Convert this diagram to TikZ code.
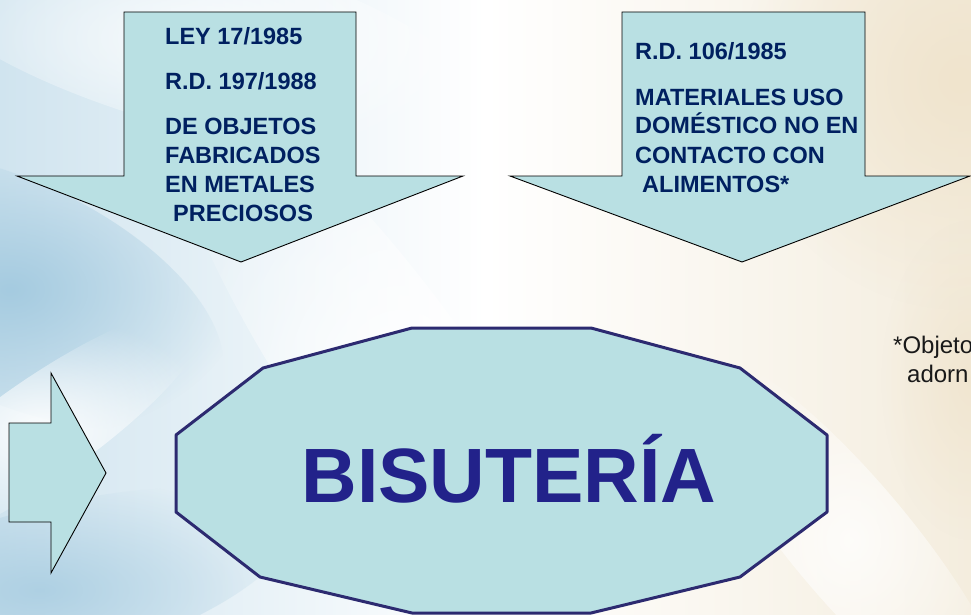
\documentclass[tikz,border=0pt]{standalone}
\usepackage{fontspec}
\setmainfont{Liberation Sans}
\usetikzlibrary{fadings}
\tikzfading[name=softfade, inner color=transparent!0, outer color=transparent!100]
\definecolor{arrowfill}{RGB}{185,224,227}
\definecolor{navytext}{RGB}{0,32,96}
\definecolor{octline}{RGB}{44,42,112}
\definecolor{bistext}{RGB}{34,34,138}
\definecolor{bgbluelight}{RGB}{208,228,239}
\definecolor{bgblue}{RGB}{165,203,224}
\definecolor{bgcream}{RGB}{244,237,222}
\definecolor{bgwarm}{RGB}{240,228,205}
\tikzset{
  arrowshape/.style={fill=arrowfill, draw=black, line width=0.9pt, line join=miter},
  octshape/.style={fill=arrowfill, draw=octline, line width=3pt, line join=round},
  lawtext/.style={anchor=base west, inner sep=0pt, text=navytext, font=\fontsize{23.5}{28}\selectfont\bfseries},
  bigtext/.style={anchor=base, inner sep=0pt, text=bistext, font=\fontsize{77}{77}\selectfont\bfseries},
  notetext/.style={anchor=base west, inner sep=0pt, text=black!90, font=\fontsize{24}{29}\selectfont},
  softblob/.style={path fading=softfade}
}
\begin{document}
\begin{tikzpicture}[x=1pt,y=-1pt]
\useasboundingbox (0,0) rectangle (971,615);
\clip (0,0) rectangle (971,615);
% background
\shade[left color=bgbluelight, right color=bgcream, middle color=white] (0,0) rectangle (971,615);
\fill[bgblue, softblob, rotate around={-25:(10,290)}] (10,290) ellipse (230pt and 110pt);
\fill[bgblue, softblob, opacity=0.8, rotate around={15:(40,590)}] (40,590) ellipse (260pt and 80pt);
\fill[white, softblob, opacity=0.9, rotate around={35:(40,430)}] (40,430) ellipse (200pt and 50pt);
\fill[white, softblob, opacity=0.9, rotate around={-55:(400,400)}] (400,400) ellipse (380pt and 90pt);
\fill[white, softblob, opacity=0.8, rotate around={-15:(200,40)}] (200,40) ellipse (300pt and 90pt);
\fill[bgwarm, softblob] (960,80) ellipse (220pt and 230pt);
\fill[bgwarm, softblob, opacity=0.8] (971,380) ellipse (90pt and 160pt);
\fill[white, softblob, opacity=0.8, rotate around={-50:(850,540)}] (850,540) ellipse (240pt and 60pt);
% left arrow
\draw[arrowshape] (124,12) -- (356,12) -- (356,176) -- (463,176) -- (241,262) -- (17,176) -- (124,176) -- cycle;
% right arrow
\draw[arrowshape] (622,12) -- (865,12) -- (865,176) -- (970,176) -- (742,262) -- (510,176) -- (622,176) -- cycle;
% small side arrow
\draw[arrowshape] (9,423) -- (51,423) -- (51,373) -- (106,473) -- (51,573) -- (51,522) -- (9,522) -- cycle;
% twelve-sided shape
\draw[octshape] (412,328) -- (591,328) -- (740,368) -- (827,435) -- (827,512) -- (740,577) -- (591,613) -- (412,613) -- (260,577) -- (176,512) -- (176,435) -- (263,368) -- cycle;
% left arrow text
\node[lawtext] (l1) at (165,45) {LEY 17/1985};
\node[lawtext] (l2) at (165,90) {R.D. 197/1988};
\node[lawtext] (l3) at (165,135) {DE OBJETOS};
\node[lawtext] (l4) at (165,163) {FABRICADOS};
\node[lawtext] (l5) at (165,192) {EN METALES};
\node[lawtext] (l6) at (173,221) {PRECIOSOS};
% right arrow text
\node[lawtext] (r1) at (635,60) {R.D. 106/1985};
\node[lawtext] (r2) at (635,106) {MATERIALES USO};
\node[lawtext] (r3) at (635,134) {DOMÉSTICO NO EN};
\node[lawtext] (r4) at (635,163) {CONTACTO CON};
\node[lawtext] (r5) at (642,192) {ALIMENTOS*};
% main label
\node[bigtext] (bis) at (509,502) {BISUTERÍA};
% footnote
\node[notetext] (n1) at (893,353) {*Objeto};
\node[notetext] (n2) at (907,382) {adorn};
\end{tikzpicture}
\end{document}
